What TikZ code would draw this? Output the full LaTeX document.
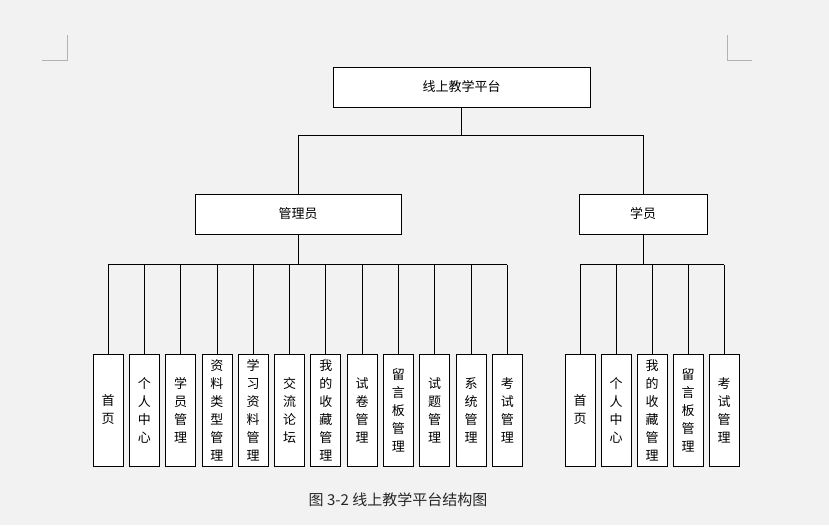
\documentclass[tikz,border=0pt]{standalone}
\usepackage{fontspec}
\newfontfamily\cjk{Noto Sans CJK SC}
\begin{document}
\begin{tikzpicture}[x=1pt,y=-1pt,
  box/.style={draw,fill=white,line width=0.8pt,minimum height=40pt,font=\cjk\fontsize{13}{15}\selectfont},
  leaf/.style={draw,fill=white,line width=0.8pt,minimum width=30pt,minimum height=112pt,align=center,inner sep=0pt,font=\cjk\fontsize{13}{18}\selectfont},
  conn/.style={line width=0.8pt}]
\fill[gray!10] (0,0) rectangle (829,525);
\useasboundingbox (0,0) rectangle (829,525);
\draw[gray!60] (42,60)--(67,60)--(67,35) (752,60)--(727,60)--(727,35);
\node[box,minimum width=257pt] (top) at (461.5,87) {线上教学平台};
\node[box,minimum width=206pt] (adm) at (298,214) {管理员};
\node[box,minimum width=128pt] (stu) at (643,214) {学员};
\coordinate (j) at (461.5,135);
\draw[conn] (top.south)--(j) (adm.north)|-(j) (stu.north)|-(j);
\foreach \i/\t in {0/{首\\页},1/{个\\人\\中\\心},2/{学\\员\\管\\理},3/{资\\料\\类\\型\\管\\理},4/{学\\习\\资\\料\\管\\理},5/{交\\流\\论\\坛},6/{我\\的\\收\\藏\\管\\理},7/{试\\卷\\管\\理},8/{留\\言\\板\\管\\理},9/{试\\题\\管\\理},10/{系\\统\\管\\理},11/{考\\试\\管\\理}}{
  \node[leaf] (a\i) at ({108+36.3*\i},410) {\t};
  \draw[conn] (a\i.north)--++(0,-89);
}
\draw[conn] (a0.north)++(0,-89) -- ++(399.3,0);
\draw[conn] (adm.south)--(298,265);
\foreach \i/\t in {0/{首\\页},1/{个\\人\\中\\心},2/{我\\的\\收\\藏\\管\\理},3/{留\\言\\板\\管\\理},4/{考\\试\\管\\理}}{
  \node[leaf] (b\i) at ({580+36*\i},410) {\t};
  \draw[conn] (b\i.north)--++(0,-89);
}
\draw[conn] (b0.north)++(0,-89) -- ++(144,0);
\draw[conn] (stu.south)--(643,265);
\node[font=\cjk\fontsize{15}{17}\selectfont,text=black!85] (cap) at (398,500) {图 3-2 线上教学平台结构图};
\end{tikzpicture}
\end{document}
